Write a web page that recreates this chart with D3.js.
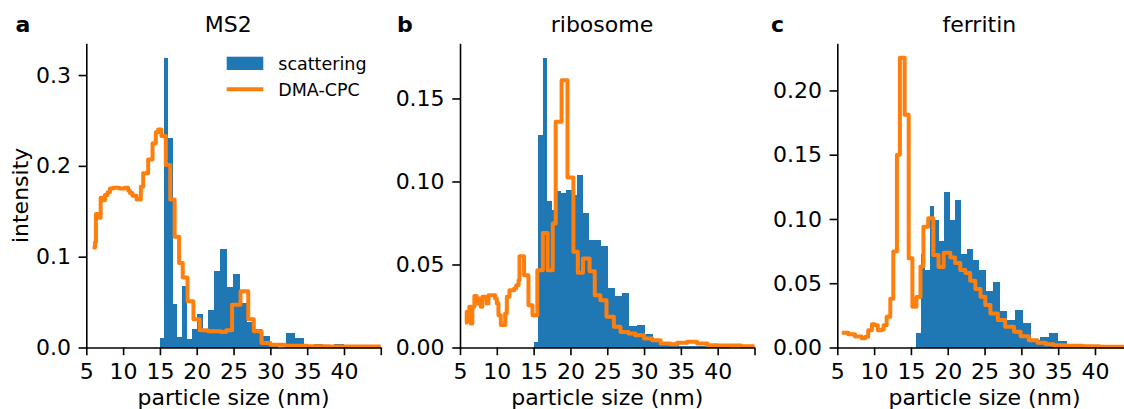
<!DOCTYPE html>
<html>
<head>
<meta charset="utf-8">
<script src="https://cdn.jsdelivr.net/npm/d3@7"></script>
<style>
  body { margin: 0; background: #fff; }
  svg { display: block; font-family: "DejaVu Sans", sans-serif; }
</style>
</head>
<body>
<svg id="chart" width="1124" height="409"></svg>
<script>
// scattering histograms use log spaced bins: edge k = start * ratio^k
const binRatio = 1.037;

const ms2BinStart = 15.0;
const ms2Scatter = [0.011, 0.319, 0.231, 0.048, 0.012, 0.068, 0.0095, 0.02, 0.037, 0.019,
    0.041, 0.084, 0.109, 0.067, 0.081, 0.049, 0.028, 0.02, 0.0125, 0.003,
    0, 0.016, 0.0106, 0, 0.0044, 0, 0.0044];
// DMA-CPC step curve: size where each step starts, and its level
const ms2Size = [5.86, 6.18, 6.31, 6.77, 6.95, 7.3, 7.53, 7.9, 8.21, 8.66, 9.5, 10.2, 10.69, 10.92,
    11.28, 11.82, 12.41, 12.73, 13.4, 14.0, 14.44, 14.75, 15.2, 15.8, 16.4, 17.0, 17.6, 18.1,
    18.75, 19.55, 20.4, 21.5, 22.5, 23.3, 24.0, 24.8, 25.95, 27.0, 27.75, 28.8, 30, 32, 35, 38, 41, 45];
const ms2Dma = [0.110, 0.116, 0.147, 0.143, 0.165, 0.162, 0.168, 0.171, 0.175, 0.176, 0.175, 0.176, 0.173, 0.170,
    0.167, 0.163, 0.177, 0.192, 0.207, 0.225, 0.237, 0.240, 0.233, 0.201, 0.163, 0.122, 0.093, 0.077,
    0.051, 0.031, 0.019, 0.018, 0.018, 0.017, 0.019, 0.047, 0.062, 0.031, 0.018, 0.005, 0.003, 0.002, 0.0015, 0.001, 0.001, 0.001];

const riboBinStart = 15.08;
const riboScatter = [0.0034, 0.128, 0.1745, 0.088, 0.083, 0.094, 0.093, 0.095, 0.092, 0.104,
    0.081, 0.065, 0.065, 0.061, 0.036, 0.031, 0.033, 0.013, 0.0135, 0.0084,
    0.0034, 0.002, 0.0015, 0.001, 0.001, 0.0008, 0.0006, 0.0004];
const riboSize = [5.68, 5.91, 6.27, 6.45, 6.68, 6.95, 7.27, 7.59, 7.82, 8.04, 8.41, 8.63, 8.86, 9.77,
    10.0, 10.22, 10.54, 11.13, 11.36, 11.72, 12.36, 12.63, 12.95, 13.08, 13.7, 14.3, 14.85, 15.5,
    16.25, 16.9, 17.6, 18.0, 18.8, 19.6, 20.4, 21.0, 21.7, 22.6, 23.3, 24.07, 24.9, 25.9, 26.8,
    27.9, 28.8, 30.0, 31.1, 32.25, 33.6, 34.5, 35.9, 37.2, 38.6, 40.0, 43.2, 45];
const riboDma = [0.015, 0.0215, 0.0245, 0.0145, 0.0245, 0.031, 0.0265, 0.0295, 0.0245, 0.0305, 0.0295, 0.0265, 0.0315, 0.0295,
    0.0265, 0.0195, 0.0135, 0.0205, 0.0305, 0.0345, 0.0355, 0.0375, 0.0405, 0.055, 0.0435, 0.0255, 0.0195, 0.0466,
    0.069, 0.0466, 0.0747, 0.136, 0.161, 0.1024, 0.0576, 0.045, 0.0536, 0.046, 0.0315, 0.0285, 0.0185, 0.0125, 0.0094,
    0.0084, 0.0074, 0.0054, 0.0044, 0.0024, 0.002, 0.0028, 0.0034, 0.0024, 0.0014, 0.0012, 0.0008, 0.0008];

const ferrBinStart = 15.72;
const ferrScatter = [0.0109, 0.073, 0.06, 0.11, 0.099, 0.083, 0.1206, 0.0993, 0.1144, 0.0725,
    0.077, 0.068, 0.060, 0.044, 0.051, 0.0286, 0.0213, 0.029, 0.019, 0.0062,
    0.0083, 0.0114, 0.005, 0.0026, 0.002, 0.0018, 0.001, 0.002, 0.0005];
const ferrSize = [5.6, 6.5, 7.4, 8.3, 8.8, 9.2, 9.7, 10.1, 10.5, 11.0, 11.3, 11.7, 12.2, 12.6,
    13.1, 13.5, 14.15, 14.7, 15.2, 15.75, 16.3, 16.7, 17.35, 18.05, 18.75, 19.45, 20.35, 21.0,
    21.7, 22.4, 23.05, 23.75, 24.45, 25.1, 25.8, 26.8, 27.8, 29.0, 29.9, 31.0, 32.2, 33.3, 34.4,
    36.0, 38.3, 40.6, 45];
const ferrDma = [0.0114, 0.0104, 0.0085, 0.0072, 0.0083, 0.0135, 0.018, 0.0174, 0.0135, 0.014, 0.0174, 0.024, 0.038, 0.0746,
    0.150, 0.2254, 0.181, 0.0695, 0.0317, 0.0393, 0.063, 0.094, 0.1005, 0.072, 0.0627, 0.0737, 0.070, 0.0657,
    0.0603, 0.058, 0.052, 0.0455, 0.0395, 0.033, 0.0265, 0.0213, 0.0161, 0.0122, 0.0088, 0.0057, 0.0036, 0.0026, 0.0018,
    0.0013, 0.001, 0.0005, 0.0005];

const panelLetters = ["a", "b", "c"];
const panelTitles = ["MS2", "ribosome", "ferritin"];
const xTicks = [5, 10, 15, 20, 25, 30, 35, 40, 45];
const xTickLabels = ["5", "10", "15", "20", "25", "30", "35", "40", ""];
const ms2YTicks = [0, 0.1, 0.2, 0.3];
const riboYTicks = [0, 0.05, 0.10, 0.15];
const ferrYTicks = [0, 0.05, 0.10, 0.15, 0.20];
const legendLabels = ["scattering", "DMA-CPC"];

const panels = [
    { binStart: ms2BinStart, scatter: ms2Scatter, size: ms2Size, dma: ms2Dma, yTicks: ms2YTicks, fmt: ".1f" },
    { binStart: riboBinStart, scatter: riboScatter, size: riboSize, dma: riboDma, yTicks: riboYTicks, fmt: ".2f" },
    { binStart: ferrBinStart, scatter: ferrScatter, size: ferrSize, dma: ferrDma, yTicks: ferrYTicks, fmt: ".2f" }
];

// layout
const panelLeft = [86.3, 460, 837.3];
const letterX = [15.5, 397, 771];
const plotW = 294.5;
const plotTop = 43.3, plotBottom = 347.5;
const blue = "#1f77b4", orange = "#ff7f0e";
const fontSize = 22;

const svg = d3.select("#chart");

panels.forEach((p, i) => {
    const g = svg.append("g").attr("transform", `translate(${panelLeft[i]},0)`);

    const x = d3.scaleLinear().domain([5, 45]).range([0, plotW]);
    const yMax = 1.05 * d3.max([...p.scatter, ...p.dma]); // matplotlib style margin
    const y = d3.scaleLinear().domain([0, yMax]).range([plotBottom, plotTop]);

    const edges = d3.range(p.scatter.length + 1).map(k => p.binStart * Math.pow(binRatio, k));

    // histogram bars
    g.selectAll("rect.bar")
        .data(p.scatter)
        .join("rect")
        .attr("class", "bar")
        .attr("x", (d, k) => x(edges[k]))
        .attr("width", (d, k) => x(edges[k + 1]) - x(edges[k]))
        .attr("y", d => y(d))
        .attr("height", d => plotBottom - y(d))
        .attr("fill", blue)
        .attr("shape-rendering", "crispEdges");

    // DMA-CPC step line
    const line = d3.line()
        .x(d => x(d[0]))
        .y(d => y(d[1]))
        .curve(d3.curveStepAfter);

    g.append("path")
        .datum(d3.zip(p.size, p.dma))
        .attr("d", line)
        .attr("fill", "none")
        .attr("stroke", orange)
        .attr("stroke-width", 4)
        .attr("stroke-linejoin", "round");

    // axes
    const xAxis = d3.axisBottom(x)
        .tickValues(xTicks)
        .tickFormat((d, k) => xTickLabels[k])
        .tickSize(7.7)
        .tickSizeOuter(0)
        .tickPadding(8);
    const yAxis = d3.axisLeft(y)
        .tickValues(p.yTicks)
        .tickFormat(d3.format(p.fmt))
        .tickSize(7.7)
        .tickSizeOuter(0)
        .tickPadding(7.7);

    const gx = g.append("g").attr("transform", `translate(0,${plotBottom})`).call(xAxis);
    const gy = g.append("g").call(yAxis);
    [gx, gy].forEach(a => {
        a.attr("font-size", fontSize).attr("font-family", "DejaVu Sans");
        a.selectAll("path, line").attr("stroke", "#000").attr("stroke-width", 1.6);
        a.selectAll("text").attr("fill", "#000");
    });

    // x label
    g.append("text")
        .attr("x", plotW / 2)
        .attr("y", 404.5)
        .attr("text-anchor", "middle")
        .attr("font-size", fontSize)
        .text("particle size (nm)");

    // title
    g.append("text")
        .attr("x", 142)
        .attr("y", 31.5)
        .attr("text-anchor", "middle")
        .attr("font-size", fontSize)
        .text(panelTitles[i]);

    // panel letter
    svg.append("text")
        .attr("x", letterX[i])
        .attr("y", 31.5)
        .attr("font-size", fontSize)
        .attr("font-weight", "bold")
        .text(panelLetters[i]);

    if (i === 0) {
        // y label
        svg.append("text")
            .attr("transform", `translate(28,${(plotTop + plotBottom) / 2}) rotate(-90)`)
            .attr("text-anchor", "middle")
            .attr("font-size", fontSize)
            .text("intensity");

        // legend
        const lg = g.append("g").attr("transform", "translate(140.4,0)");
        lg.append("rect")
            .attr("x", 0).attr("y", 56.7)
            .attr("width", 36.6).attr("height", 13.3)
            .attr("fill", blue);
        lg.append("line")
            .attr("x1", 0).attr("x2", 36.6)
            .attr("y1", 89.3).attr("y2", 89.3)
            .attr("stroke", orange)
            .attr("stroke-width", 4);
        lg.selectAll("text.leg")
            .data(legendLabels)
            .join("text")
            .attr("class", "leg")
            .attr("x", 51.6)
            .attr("y", (d, k) => 70 + k * 25.7)
            .attr("font-size", 17.5)
            .text(d => d);
    }
});
</script>
</body>
</html>
